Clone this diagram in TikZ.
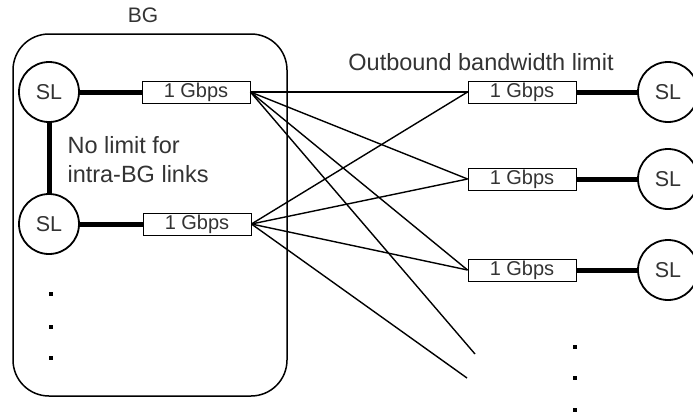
\documentclass[tikz,border=0pt]{standalone}
\usepackage{fontspec}
\setmainfont{Liberation Sans}
\begin{document}
\begin{tikzpicture}[x=1pt,y=-1pt,
  sl/.style={circle,draw,line width=1.8pt,minimum size=60pt,inner sep=0pt,text=black!80,font=\fontsize{21.5}{24}\selectfont},
  rate/.style={rectangle,draw,line width=0.9pt,minimum width=108pt,minimum height=22pt,inner sep=0pt,text=black!80,font=\fontsize{20}{22}\selectfont},
  thick link/.style={line width=5pt},
  thin link/.style={line width=1.4pt},
  dotmark/.style={fill=black,minimum size=3.5pt,inner sep=0pt,rectangle},
  big/.style={font=\fontsize{23.5}{29}\selectfont,align=left,text=black!80}]
\useasboundingbox (0,0) rectangle (693,416);
\clip (0,0) rectangle (693,416);

% the BG group
\draw[line width=1.5pt,rounded corners=36pt] (13,34) rectangle (287,396);
\node[font=\fontsize{21}{24}\selectfont,text=black!80] (bg) at (143,15) {BG};

\node[sl] (sl1) at (49,92) {SL};
\node[sl] (sl2) at (49,224) {SL};
\node[rate] (b1) at (196,92) {1 Gbps};
\node[rate] (b2) at (197,224) {1 Gbps};
\draw[thick link] (sl1) -- (b1);
\draw[thick link] (sl2) -- (b2);
\draw[thick link] (sl1) -- (sl2);
\node[big,anchor=west] (nolimit) at (64,160) {No limit for\\intra-BG links};

\node[dotmark] (ld1) at (51,294) {};
\node[dotmark] (ld2) at (51,327) {};
\node[dotmark] (ld3) at (51,358) {};

% remote side
\node[big,anchor=center] (outb) at (481,62) {Outbound bandwidth limit};
\node[rate] (r1) at (522,92) {1 Gbps};
\node[rate] (r2) at (522,179) {1 Gbps};
\node[rate] (r3) at (522,270) {1 Gbps};
\node[sl] (c1) at (668,92) {SL};
\node[sl] (c2) at (668,179) {SL};
\node[sl] (c3) at (668,270) {SL};
\draw[thick link] (r1) -- (c1);
\draw[thick link] (r2) -- (c2);
\draw[thick link] (r3) -- (c3);

\coordinate (e1) at (475,354);
\coordinate (e2) at (467,378);

\node[dotmark] (rd1) at (575,347) {};
\node[dotmark] (rd2) at (575,378) {};
\node[dotmark] (rd3) at (575,410) {};

% full mesh of outbound links
\foreach \s in {b1,b2}{
  \foreach \t in {r1,r2,r3}{
    \draw[thin link] (\s.east) -- (\t.west);
  }
}
\draw[thin link] (b1.east) -- (e1);
\draw[thin link] (b2.east) -- (e2);
\end{tikzpicture}
\end{document}
